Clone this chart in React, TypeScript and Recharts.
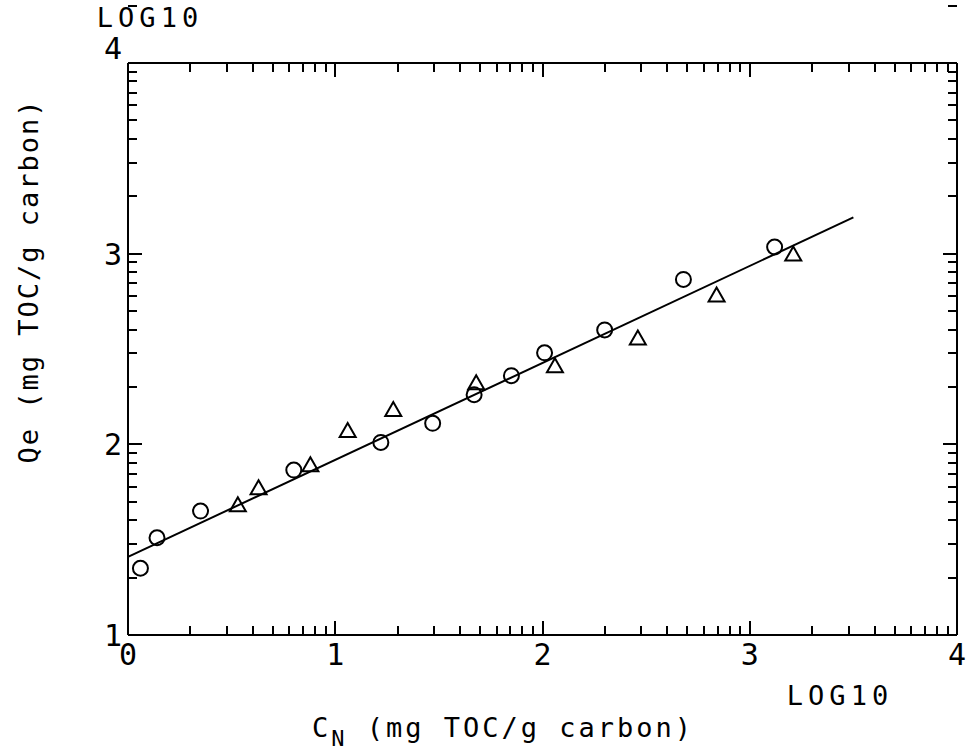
import React from 'react';
import { ComposedChart, Scatter, XAxis, YAxis, Customized } from 'recharts';

// log10 values
const circleX = [0.06, 0.14, 0.35, 0.8, 1.22, 1.47, 1.67, 1.85, 2.01, 2.3, 2.68, 3.12];
const circleY = [1.35, 1.51, 1.65, 1.865, 2.01, 2.11, 2.26, 2.36, 2.48, 2.6, 2.865, 3.035];
const triangleX = [0.53, 0.63, 0.88, 1.06, 1.28, 1.68, 2.06, 2.46, 2.84, 3.21];
const triangleY = [1.68, 1.77, 1.89, 2.07, 2.18, 2.32, 2.41, 2.555, 2.78, 2.995];
const fitX = [0, 3.5];
const fitY = [1.41, 3.19];

const decades = [0, 1, 2, 3];
const minorSteps = [2, 3, 4, 5, 6, 7, 8, 9];
const xTicks = [0, 1, 2, 3, 4];
const yTicks = [1, 2, 3, 4];

const circles = circleX.map((x, i) => ({ x, y: circleY[i] }));
const triangles = triangleX.map((x, i) => ({ x, y: triangleY[i] }));
const fit = fitX.map((x, i) => ({ x, y: fitY[i] }));

const logTicks = () => {
    const out: number[] = [];
    decades.forEach((d) => {
        out.push(d);
        minorSteps.forEach((k) => out.push(d + Math.log10(k)));
    });
    out.push(4);
    return out;
};

const allX = logTicks();
const allY = logTicks().map((v) => v + 1);

const FONT = '"DejaVu Sans Mono", monospace';
const INK = '#000';
const AX = 30; // axis box size
const AXR = 10; // right axis box size
const W = 971;
const H = 756;
const MARGIN = { top: 63 - AX, right: 14 - AXR, bottom: 121 - AX, left: 128 - AX };

// plot area implied by the margins and axis sizes
const PX = MARGIN.left + AX;
const PY = MARGIN.top + AX;
const PW = W - PX - MARGIN.right - AXR;
const PH = H - PY - MARGIN.bottom - AX;

const isMajor = (v: number) => Math.abs(v - Math.round(v)) < 1e-6;

const BottomLabel = (props: any) => {
    const { x, y, payload } = props;
    return (
        <text x={x} y={y + 30} textAnchor="middle" fontFamily={FONT} fontSize={30} fill={INK}>
            {payload.value}
        </text>
    );
};

const LeftLabel = (props: any) => {
    const { x, y, payload } = props;
    const lift = payload.value === 4 ? -15 : 0;
    return (
        <text x={x - 6} y={y + 11 + lift} textAnchor="end" fontFamily={FONT} fontSize={30} fill={INK}>
            {payload.value}
        </text>
    );
};

const Circle = (props: any) => {
    const { cx, cy } = props;
    return <circle cx={cx} cy={cy} r={7.5} fill="none" stroke={INK} strokeWidth={2} />;
};

const Triangle = (props: any) => {
    const { cx, cy } = props;
    return (
        <path
            d={`M${cx},${cy - 8} L${cx - 8},${cy + 6} L${cx + 8},${cy + 6} Z`}
            fill="none"
            stroke={INK}
            strokeWidth={2}
        />
    );
};

// inward log-scale tick marks on all four sides of the frame
const FrameTicks = () => {
    const sx = (v: number) => PX + (v / 4) * PW;
    const sy = (v: number) => PY + PH - ((v - 1) / 3) * PH;
    return (
        <g>
            {allX.map((v) => {
                const len = isMajor(v) ? 14 : 9;
                const x = Math.round(sx(v));
                return (
                    <g key={`x${v}`}>
                        <line x1={x} y1={PY + PH} x2={x} y2={PY + PH - len} stroke={INK} strokeWidth={2} />
                        <line x1={x} y1={PY} x2={x} y2={PY + len} stroke={INK} strokeWidth={2} />
                    </g>
                );
            })}
            {allY.map((v) => {
                const len = isMajor(v) ? 14 : 9;
                const y = Math.round(sy(v));
                return (
                    <g key={`y${v}`}>
                        <line x1={PX} y1={y} x2={PX + len} y2={y} stroke={INK} strokeWidth={2} />
                        <line x1={PX + PW} y1={y} x2={PX + PW - len} y2={y} stroke={INK} strokeWidth={2} />
                    </g>
                );
            })}
        </g>
    );
};

const Titles = () => (
    <g fontFamily={FONT} fill={INK}>
        <text x={150} y={27} textAnchor="middle" fontSize={27} letterSpacing={5}>LOG10</text>
        <text x={840} y={705} textAnchor="middle" fontSize={27} letterSpacing={5}>LOG10</text>
        <text x={503} y={737} textAnchor="middle" fontSize={27} letterSpacing={3}>
            C<tspan fontSize={22} dy={9}>N</tspan>
            <tspan dy={-9}> (mg TOC/g carbon)</tspan>
        </text>
        <text
            x={38}
            y={281}
            textAnchor="middle"
            fontSize={27}
            letterSpacing={2}
            transform="rotate(-90 38 281)"
        >
            Qe (mg TOC/g carbon)
        </text>
    </g>
);

export default function App() {
    return (
        <div style={{ position: 'absolute', left: 0, top: 0, background: '#fff' }}>
            <ComposedChart width={W} height={H} margin={MARGIN}>
                <XAxis
                    xAxisId="b"
                    dataKey="x"
                    type="number"
                    domain={[0, 4]}
                    ticks={xTicks}
                    interval={0}
                    height={AX}
                    tickSize={0}
                    tickMargin={0}
                    tick={<BottomLabel />}
                    axisLine={{ stroke: INK, strokeWidth: 2 }}
                    tickLine={false}
                />
                <XAxis
                    xAxisId="t"
                    orientation="top"
                    dataKey="x"
                    type="number"
                    domain={[0, 4]}
                    ticks={xTicks}
                    height={AX}
                    tick={false}
                    axisLine={{ stroke: INK, strokeWidth: 2 }}
                    tickLine={false}
                />
                <YAxis
                    yAxisId="l"
                    dataKey="y"
                    type="number"
                    domain={[1, 4]}
                    ticks={yTicks}
                    interval={0}
                    width={AX}
                    tickSize={0}
                    tickMargin={0}
                    tick={<LeftLabel />}
                    axisLine={{ stroke: INK, strokeWidth: 2 }}
                    tickLine={false}
                />
                <YAxis
                    yAxisId="r"
                    orientation="right"
                    dataKey="y"
                    type="number"
                    domain={[1, 4]}
                    ticks={yTicks}
                    width={AXR}
                    tick={false}
                    axisLine={{ stroke: INK, strokeWidth: 2 }}
                    tickLine={false}
                />
                <Scatter
                    xAxisId="b"
                    yAxisId="l"
                    data={fit}
                    line={{ stroke: INK, strokeWidth: 2 }}
                    shape={() => null}
                    isAnimationActive={false}
                />
                <Scatter xAxisId="b" yAxisId="l" data={circles} shape={<Circle />} isAnimationActive={false} />
                <Scatter xAxisId="b" yAxisId="l" data={triangles} shape={<Triangle />} isAnimationActive={false} />
                <Customized component={FrameTicks} />
                <Customized component={Titles} />
            </ComposedChart>
        </div>
    );
}
